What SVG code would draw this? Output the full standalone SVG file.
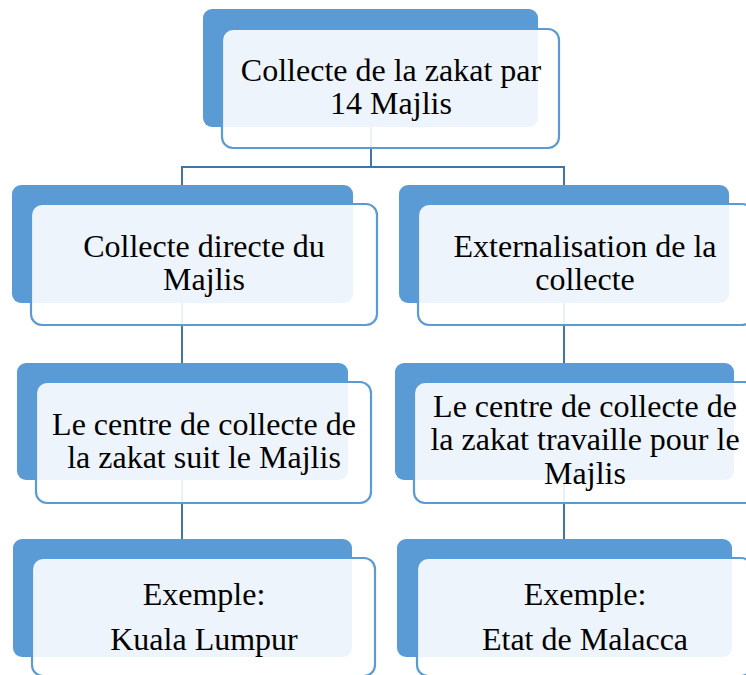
<svg xmlns="http://www.w3.org/2000/svg" width="746" height="675" viewBox="0 0 746 675">
<style>
.back{fill:#5B9BD5}
.front{fill:#FFFFFF;fill-opacity:0.89;stroke:#5B9BD5;stroke-width:2.2}
.conn{fill:none;stroke:#4174A8;stroke-width:2}
</style>
<rect width="746" height="675" fill="#FFFFFF"/>
<g id="backs">
<rect class="back" x="203" y="9" width="335" height="118" rx="9"/>
<rect class="back" x="12" y="185" width="341" height="118" rx="9"/>
<rect class="back" x="399" y="185" width="330" height="118" rx="9"/>
<rect class="back" x="17" y="363" width="331" height="117" rx="9"/>
<rect class="back" x="395" y="363" width="339" height="117" rx="9"/>
<rect class="back" x="13" y="539" width="339" height="118" rx="9"/>
<rect class="back" x="397" y="539" width="335" height="118" rx="9"/>
</g>
<g id="connectors">
<path class="conn" d="M371,127 V167 M182,167 H565 M182,166 V185 M564,166 V185"/>
<path class="conn" d="M182,303 V363 M564,303 V363"/>
<path class="conn" d="M182,480 V539 M564,480 V539"/>
</g>
<g id="n1">
<rect class="front" x="222" y="29" width="337" height="119" rx="11"/>
<text x="391" y="81" font-family="Liberation Serif" font-size="32" text-anchor="middle">Collecte de la zakat par</text>
<text x="391" y="114" font-family="Liberation Serif" font-size="32" text-anchor="middle">14 Majlis</text>
</g>
<g id="n2">
<rect class="front" x="31" y="204" width="346" height="121" rx="11"/>
<text x="204" y="257" font-family="Liberation Serif" font-size="32" text-anchor="middle">Collecte directe du</text>
<text x="204" y="290" font-family="Liberation Serif" font-size="32" text-anchor="middle">Majlis</text>
</g>
<g id="n3">
<rect class="front" x="418" y="204" width="335" height="121" rx="11"/>
<text x="585" y="257" font-family="Liberation Serif" font-size="32" text-anchor="middle">Externalisation de la</text>
<text x="585" y="290" font-family="Liberation Serif" font-size="32" text-anchor="middle">collecte</text>
</g>
<g id="n4">
<rect class="front" x="36" y="382" width="335" height="121" rx="11"/>
<text x="204" y="435" font-family="Liberation Serif" font-size="32" text-anchor="middle">Le centre de collecte de</text>
<text x="204" y="468" font-family="Liberation Serif" font-size="32" text-anchor="middle">la zakat suit le Majlis</text>
</g>
<g id="n5">
<rect class="front" x="414" y="382" width="341" height="121" rx="11"/>
<text x="585" y="417" font-family="Liberation Serif" font-size="32" text-anchor="middle">Le centre de collecte de</text>
<text x="585" y="450" font-family="Liberation Serif" font-size="32" text-anchor="middle">la zakat travaille pour le</text>
<text x="585" y="484" font-family="Liberation Serif" font-size="32" text-anchor="middle">Majlis</text>
</g>
<g id="n6">
<rect class="front" x="32" y="558" width="343" height="118" rx="11"/>
<text x="204" y="605" font-family="Liberation Serif" font-size="32" text-anchor="middle">Exemple:</text>
<text x="204" y="650" font-family="Liberation Serif" font-size="32" text-anchor="middle">Kuala Lumpur</text>
</g>
<g id="n7">
<rect class="front" x="417" y="558" width="335" height="118" rx="11"/>
<text x="585" y="605" font-family="Liberation Serif" font-size="32" text-anchor="middle">Exemple:</text>
<text x="585" y="650" font-family="Liberation Serif" font-size="32" text-anchor="middle">Etat de Malacca</text>
</g>
</svg>
